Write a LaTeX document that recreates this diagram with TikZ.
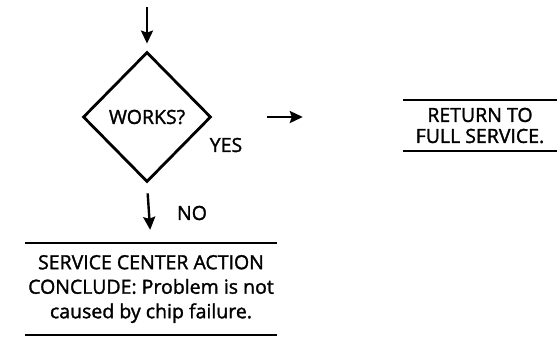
\documentclass[tikz,border=0pt]{standalone}
\usepackage{fontspec}
\setmainfont{Open Sans}[FakeBold=1.5]
\usetikzlibrary{arrows.meta, positioning, shapes.geometric}

\begin{document}
\begin{tikzpicture}[
        x=1pt, y=-1pt,
        every node/.style={font=\fontsize{19.5}{24.5}\selectfont},
        decision/.style={diamond, draw=black, line width=2.8pt, minimum width=128pt, minimum height=130pt, inner sep=0pt, align=center},
        rulebox/.style={inner sep=0pt, align=center},
        tag/.style={inner sep=0pt},
        rule/.style={line width=1.8pt},
        arrow/.style={-{Stealth[length=13pt, width=12pt, inset=2pt]}, line width=2.4pt}
    ]
    \useasboundingbox (0,0) rectangle (557,338);

    % Nodes
    \coordinate (start) at (147,7);
    \node[decision] (works) at (147,117) {WORKS?};
    \node[tag] (yes) at (226,145) {YES};
    \node[rulebox, minimum width=154pt, minimum height=50pt, font=\fontsize{19.5}{21}\selectfont] (ret) at (480,125.5) {RETURN TO\\FULL SERVICE.};
    \node[tag] (no) at (192,213) {NO};
    \node[rulebox, minimum width=252pt, minimum height=92pt] (svc) at (151,289) {SERVICE CENTER ACTION\\CONCLUDE: Problem is not\\caused by chip failure.};

    % Rules
    \draw[rule] (ret.north west) -- (ret.north east);
    \draw[rule] (ret.south west) -- (ret.south east);
    \draw[rule] (svc.north west) -- (svc.north east);
    \draw[rule] (svc.south west) -- (svc.south east);

    % Arrows
    \draw[arrow, shorten >=7pt] (start) -- (works.north);
    \draw[arrow, shorten <=55pt, shorten >=100pt] (works.east) -- (ret.west |- works.east);
    \draw[arrow, shorten <=10pt, shorten >=13pt] (works.south) -- (svc.north);

\end{tikzpicture}
\end{document}
